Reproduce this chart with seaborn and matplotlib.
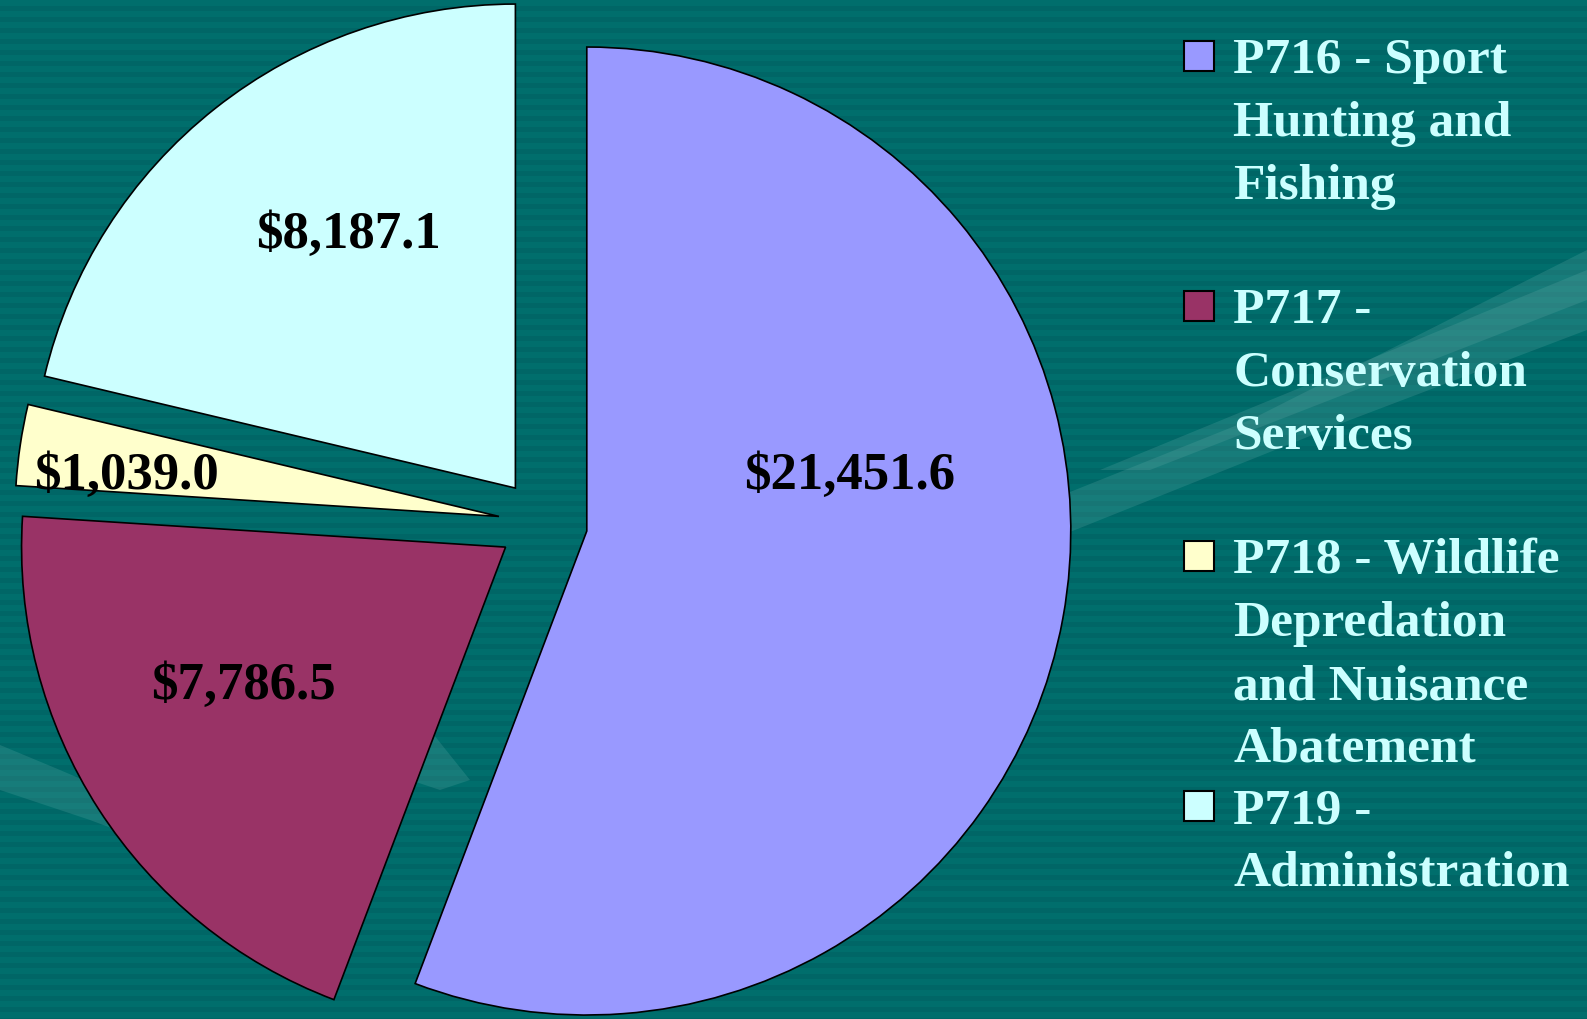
import numpy as np
import matplotlib
matplotlib.use("Agg")
import matplotlib.pyplot as plt
import seaborn as sns
from matplotlib.patches import Rectangle, Polygon

# ------------------------- DATI -------------------------
programs = ["P716", "P717", "P718", "P719"]
values = [21451.6, 7786.5, 1039.0, 8187.1]
legend_labels = [
    ["P716 - Sport", "Hunting and", "Fishing"],
    ["P717 -", "Conservation", "Services"],
    ["P718 - Wildlife", "Depredation", "and Nuisance", "Abatement"],
    ["P719 -", "Administration"],
]
colors = ["#9999FF", "#993366", "#FFFFCC", "#CCFFFF"]

# ------------------------- STILE -------------------------
sns.set_style("white")
plt.rcParams["font.family"] = ["Liberation Serif", "DejaVu Serif"]
palette = sns.color_palette(colors)

W, H = 1587, 1019
fig = plt.figure(figsize=(W / 100, H / 100), dpi=100)
fig.patch.set_facecolor("#006666")

# sfondo a righe + forme chiare
bg = fig.add_axes([0, 0, 1, 1], zorder=0)
bg.set_xlim(0, W)
bg.set_ylim(H, 0)
bg.axis("off")
for y in np.arange(0, H, 11):
    bg.axhspan(y, y + 5.5, color="#006E6C", lw=0)
shapes = [
    [(1000, 520), (1250, 420), (1587, 250), (1587, 330), (1350, 420), (1050, 540)],
    [(1100, 470), (1587, 270), (1587, 300), (1150, 470)],
    [(0, 745), (60, 770), (130, 800), (200, 790), (260, 740), (330, 720), (430, 730),
     (470, 780), (440, 790), (380, 770), (300, 790), (230, 840), (170, 850), (90, 820),
     (0, 790)],
]
for s in shapes:
    bg.add_patch(Polygon(s, closed=True, facecolor="#5FA8A5", alpha=0.25, lw=0))

# ------------------------- TORTA -------------------------
cx, cy, R = 543, 523, 484
ax = fig.add_axes([0, 0, 1, 1], zorder=1)
ax.pie(values, colors=palette, startangle=90, counterclock=False,
       explode=[0.092] * len(values), radius=1.0,
       wedgeprops=dict(edgecolor="black", linewidth=1.2))
ax.set_aspect("auto")
ax.set_xlim(-cx / R, (W - cx) / R)
ax.set_ylim((cy - H) / R, cy / R)
ax.axis("off")
ax.patch.set_alpha(0)

label_pos = [(0.634, 0.097), (-0.620, -0.337), (-0.860, 0.097), (-0.401, 0.595)]
for v, (lx, ly) in zip(values, label_pos):
    ax.text(lx, ly, f"${v:,.1f}", ha="center", va="center",
            fontsize=38, fontweight="bold", color="black")

# ------------------------- LEGENDA -------------------------
txt_color = "#CCFFFF"
for i, (lines, col) in enumerate(zip(legend_labels, palette)):
    base = 73 + i * 250
    fig.patches.append(Rectangle((1184 / W, 1 - 71 / H - i * 250 / H), 30 / W, 30 / H,
                                 transform=fig.transFigure, facecolor=col,
                                 edgecolor="black", linewidth=1.5, zorder=3))
    for k, line in enumerate(lines):
        fig.text(1233 / W, 1 - (base + k * 63) / H, line, ha="left", va="baseline",
                 fontsize=37, fontweight="bold", color=txt_color)

fig.savefig("out.png", dpi=100, facecolor=fig.get_facecolor())
